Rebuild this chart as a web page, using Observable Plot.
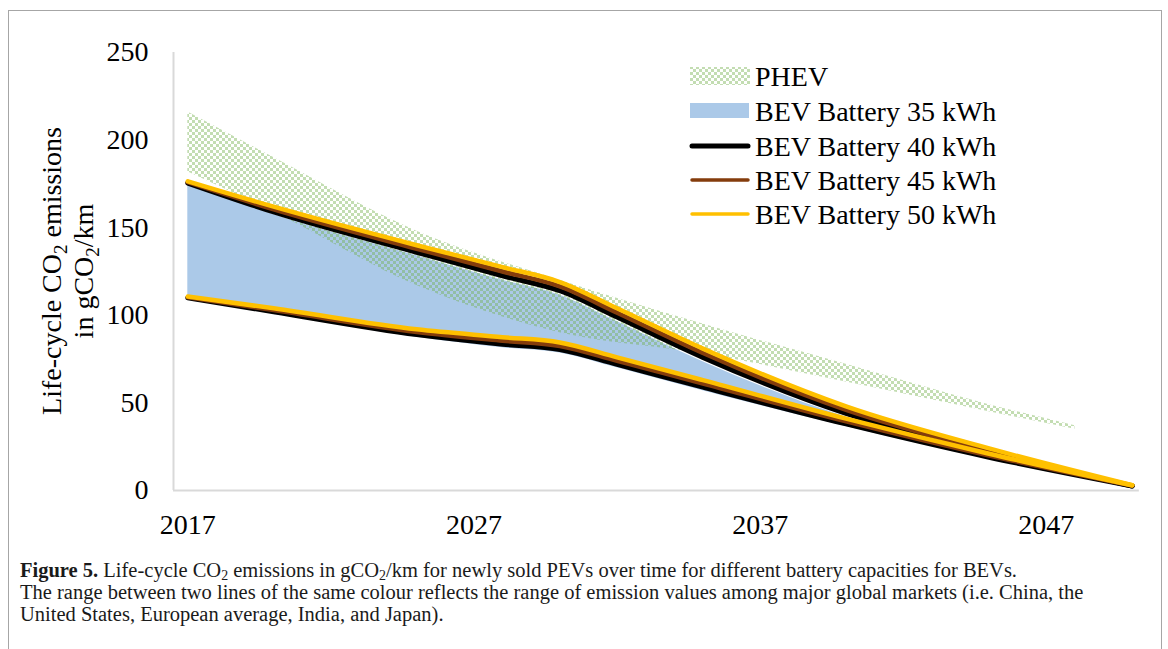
<!DOCTYPE html>
<html><head><meta charset="utf-8">
<script src="https://cdn.jsdelivr.net/npm/d3@7"></script>
<script src="https://cdn.jsdelivr.net/npm/@observablehq/plot@0.6"></script>
<style>
html,body{margin:0;padding:0;background:#fff;}
#wrap{position:relative;width:1168px;height:649px;overflow:hidden;font-family:"Liberation Serif","Times New Roman",serif;}
#frame{position:absolute;left:8px;top:10px;width:1154px;height:700px;border:1px solid #a6a6a6;box-sizing:border-box;}
#chart{position:absolute;left:0;top:0;}
#overlay{position:absolute;left:0;top:0;}
#caption{position:absolute;left:20px;top:559px;font-size:20.5px;line-height:22px;color:#1a1a1a;white-space:nowrap;}
#caption .ln{display:block;height:22px;}
#caption sub{font-size:0.68em;vertical-align:baseline;position:relative;top:0.2em;line-height:0;}
</style>
</head><body>
<div id="wrap">
  <div id="frame"></div>
  <div id="chart"></div>
  <svg id="overlay" width="1168" height="649"></svg>
  <div id="caption"><span class="ln"><b>Figure 5.</b> Life-cycle CO<sub>2</sub> emissions in gCO<sub>2</sub>/km for newly sold PEVs over time for different battery capacities for BEVs.</span><span class="ln">The range between two lines of the same colour reflects the range of emission values among major global markets (i.e. China, the</span><span class="ln">United States, European average, India, and Japan).</span></div>
</div>
<script>
// ---- data ----
const years = [2017, 2020, 2025, 2028, 2030, 2032, 2035, 2040, 2045, 2050];
const bev35High = [175, 157.5, 134, 120, 111.5, 96.5, 73.5, 42, 20.5, 2.4];
const bev35Low  = [109.5, 101, 87.5, 81.5, 78.5, 70, 57, 36.5, 18, 2.4];
const bev40High = [175.5, 159, 136, 122.5, 114, 99, 76, 44, 21.5, 2.6];
const bev40Low  = [110, 102, 89, 83.5, 80.5, 72, 59, 38, 19, 2.6];
const bev45High = [176, 160.5, 138, 125, 116.5, 101.5, 78.5, 46, 22.5, 2.8];
const bev45Low  = [110.3, 103, 90.5, 85.5, 82.5, 74, 61, 39.5, 20, 2.8];
const bev50High = [176.5, 162, 140, 127.5, 119, 104, 81, 48, 24, 3];
const bev50Low  = [110.7, 104, 92, 87.5, 84.5, 76, 63, 41, 21, 3];
const phevYears = [2017, 2020, 2025, 2030, 2035, 2040, 2045, 2048];
const phevHigh  = [216, 190, 148, 120, 95, 72, 49, 37];
const phevLow   = [182, 159, 117, 90, 78, 62, 45, 35];
const xTicks = [2017, 2027, 2037, 2047];
const yTicks = [0, 50, 100, 150, 200, 250];
const seriesNames = ["PHEV", "BEV Battery 35 kWh", "BEV Battery 40 kWh", "BEV Battery 45 kWh", "BEV Battery 50 kWh"];
const colors = {blue: "#abc9e8", black: "#000000", brown: "#843c0c", yellow: "#ffc000", green: "#70ad47"};

// ---- tables ----
const band = (xs, lo, hi) => xs.map((x, i) => ({year: x, low: lo[i], high: hi[i]}));
const bounds = (lo, hi) => years.flatMap((x, i) => [{year: x, value: lo[i], bound: "low"}, {year: x, value: hi[i], bound: "high"}]);
const phev = band(phevYears, phevLow, phevHigh);
const bev35 = band(years, bev35Low, bev35High);
const bev40 = bounds(bev40Low, bev40High);
const bev45 = bounds(bev45Low, bev45High);
const bev50 = bounds(bev50Low, bev50High);

const patternDef = `<pattern id="phevPattern" patternUnits="userSpaceOnUse" width="6" height="6">
<rect x="0" y="0" width="3" height="3" fill="${colors.green}" fill-opacity="0.42"/>
<rect x="3" y="3" width="3" height="3" fill="${colors.green}" fill-opacity="0.42"/></pattern>`;

const font = "Liberation Serif, Times New Roman, serif";
const curve = "monotone-x";
const lineOpts = (stroke, w) => ({x: "year", y: "value", z: "bound", stroke, strokeWidth: w, strokeLinecap: "round", strokeLinejoin: "round", curve});
const chart = Plot.plot({
  width: 1168, height: 560,
  marginLeft: 173, marginRight: 22, marginTop: 52, marginBottom: 70,
  style: {fontFamily: font, fontSize: "28px", color: "#000", background: "transparent", overflow: "visible"},
  x: {domain: [2016.5, 2050.5], ticks: xTicks, tickFormat: d => String(d), tickSize: 0, tickPadding: 24, label: null},
  y: {domain: [0, 250], ticks: yTicks, tickFormat: d => String(d), tickSize: 0, tickPadding: 25, label: null},
  marks: [
    Plot.ruleX([2016.5], {stroke: "#d9d9d9", strokeWidth: 2}),
    Plot.ruleY([0], {x1: 2016.5, x2: 2050.25, stroke: "#d9d9d9", strokeWidth: 2}),
    Plot.areaY(bev35, {x: "year", y1: "low", y2: "high", fill: colors.blue, curve}),
    Plot.areaY(phev, {x: "year", y1: "low", y2: "high", fill: "url(#phevPattern)", curve}),
    Plot.line(bev40, lineOpts(colors.black, 5)),
    Plot.line(bev45, lineOpts(colors.brown, 4.5)),
    Plot.line(bev50, lineOpts(colors.yellow, 4.5))
  ]
});
d3.select(chart).insert("defs", ":first-child").html(patternDef);
document.getElementById("chart").appendChild(chart);

// ---- overlay: y title + legend ----
const ov = d3.select("#overlay").attr("font-family", font).attr("font-size", 28).attr("fill", "#000");
const t1 = ov.append("text").attr("transform", "translate(61,271) rotate(-90)").attr("text-anchor", "middle");
t1.append("tspan").text("Life-cycle CO");
t1.append("tspan").attr("font-size", 19).attr("dy", 6).text("2");
t1.append("tspan").attr("dy", -6).text(" emissions");
const t2 = ov.append("text").attr("transform", "translate(93,271) rotate(-90)").attr("text-anchor", "middle");
t2.append("tspan").text("in gCO");
t2.append("tspan").attr("font-size", 19).attr("dy", 6).text("2");
t2.append("tspan").attr("dy", -6).text("/km");

const rowsY = [76, 111, 146, 180, 214];
const lg = ov.append("g");
lg.append("rect").attr("x", 690).attr("y", 67).attr("width", 60).attr("height", 18).attr("fill", "url(#phevPattern)");
lg.append("rect").attr("x", 690).attr("y", 103).attr("width", 59).attr("height", 15).attr("fill", colors.blue);
[[colors.black, 5], [colors.brown, 3.5], [colors.yellow, 3.5]].forEach(([c, w], i) => {
  lg.append("line").attr("x1", 692).attr("x2", 748).attr("y1", rowsY[i + 2]).attr("y2", rowsY[i + 2])
    .attr("stroke", c).attr("stroke-width", w).attr("stroke-linecap", "round");
});
seriesNames.forEach((n, i) => {
  lg.append("text").attr("x", 755).attr("y", rowsY[i]).attr("dy", "0.35em").text(n);
});
</script>
</body></html>
